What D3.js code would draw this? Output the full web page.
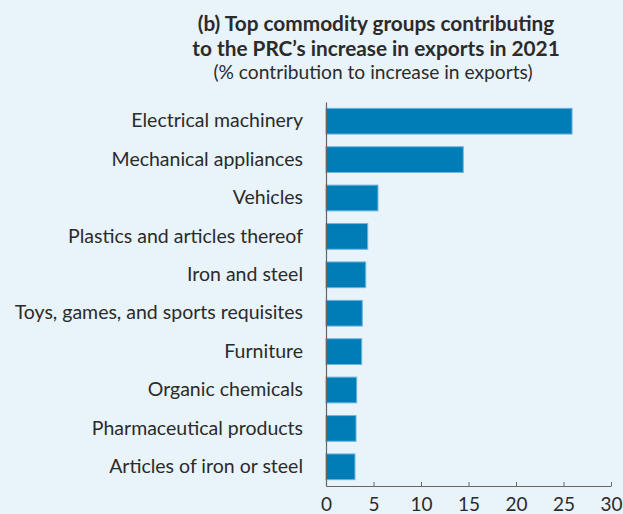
<!DOCTYPE html>
<html>
<head>
<meta charset="utf-8">
<script src="https://cdn.jsdelivr.net/npm/d3@7"></script>
<style>
html,body{margin:0;padding:0;background:#E8F3FA;}
svg{display:block;}
text{font-family:Lato,"Open Sans",sans-serif;fill:#2b2b2b;}
</style>
</head>
<body>
<script>
const categories = ["Electrical machinery","Mechanical appliances","Vehicles","Plastics and articles thereof","Iron and steel","Toys, games, and sports requisites","Furniture","Organic chemicals","Pharmaceutical products","Articles of iron or steel"];
const values = [25.9, 14.45, 5.47, 4.39, 4.18, 3.82, 3.76, 3.23, 3.16, 3.05];
const xTicks = [0,5,10,15,20,25,30];
const titleLines = ["(b) Top commodity groups contributing","to the PRC\u2019s increase in exports in 2021"];
const subtitle = "(% contribution to increase in exports)";

const W = 623, H = 514;
const svg = d3.select("body").append("svg").attr("width", W).attr("height", H);
svg.append("rect").attr("width", W).attr("height", H).attr("fill", "#E8F3FA");

const x = d3.scaleLinear().domain([0,30]).range([326, 611]);
const y = d3.scaleBand().domain(categories).range([102, 486]).paddingInner(0.33).paddingOuter(0.165);

// title
svg.selectAll("text.title").data(titleLines).enter().append("text")
  .attr("class","title").attr("x", 376).attr("y", (d,i)=>31+i*25)
  .attr("text-anchor","middle").attr("font-weight","700").attr("font-size","20.8px").text(d=>d);
svg.append("text").attr("x", 373).attr("y", 79).attr("text-anchor","middle")
  .attr("font-size","19.2px").text(subtitle);

// bars
svg.selectAll("rect.bar").data(values).enter().append("rect")
  .attr("class","bar")
  .attr("x", x(0))
  .attr("y", (d,i)=>y(categories[i]))
  .attr("width", d=>x(d)-x(0))
  .attr("height", y.bandwidth())
  .attr("fill", "#007DB7")
  .attr("stroke", "#6DB6E0").attr("stroke-width", 1);

// y axis
const yAxis = d3.axisLeft(y).tickSize(0).tickPadding(23);
const yg = svg.append("g").attr("transform", `translate(${x(0)},0)`).call(yAxis);
yg.select(".domain").attr("stroke","#666").attr("stroke-width",1.2);
yg.selectAll("text").attr("font-size","19.5px").attr("font-family","Lato,sans-serif").attr("fill","#2b2b2b");

// x axis
const xAxis = d3.axisBottom(x).tickValues(xTicks).tickSize(-4).tickSizeOuter(0).tickPadding(25);
const xg = svg.append("g").attr("transform", `translate(0,${486})`).call(xAxis);
xg.select(".domain").attr("stroke","#666").attr("stroke-width",1.2);
xg.selectAll("line").attr("stroke","#666");
xg.selectAll("text").attr("dy","0").attr("font-size","19px").attr("font-family","Lato,sans-serif").attr("fill","#2b2b2b");
</script>
</body>
</html>
